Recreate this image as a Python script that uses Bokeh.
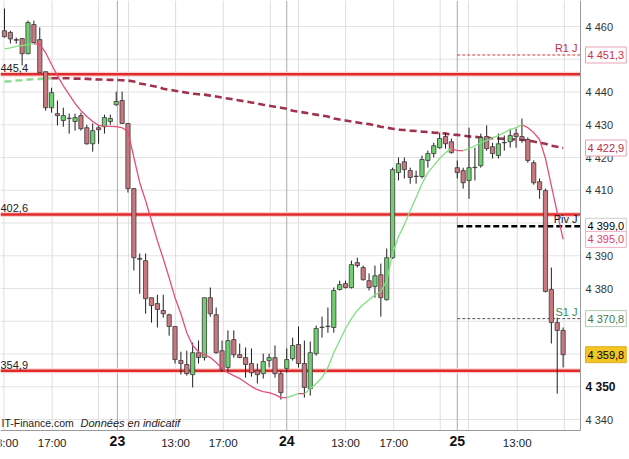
from bokeh.plotting import figure
from bokeh.models import Range1d, Label, ColumnDataSource
from bokeh.embed import file_html
from bokeh.resources import INLINE

# ---------------- data (30-min candles, index = bar number) ----------------
opens = [4458.7, 4458.2, 4456.0, 4456.3, 4451.7, 4460.6, 4456.0, 4446.2, 4435.2, 4433.4,
         4431.3, 4431.9, 4431.0, 4432.8, 4429.1, 4424.2, 4429.1, 4429.4, 4431.0, 4436.1,
         4437.4, 4430.4, 4410.5, 4389.2, 4388.5, 4377.2, 4375.4, 4373.3, 4372.0, 4368.4,
         4358.0, 4356.8, 4353.7, 4360.4, 4358.9, 4377.2, 4372.0, 4361.0, 4355.9, 4364.4,
         4359.8, 4358.9, 4357.1, 4354.9, 4354.0, 4358.0, 4358.9, 4354.0, 4355.6, 4358.6,
         4362.9, 4357.1, 4349.4, 4360.1, 4368.1, 4368.4, 4368.1, 4379.7, 4381.5, 4380.3,
         4387.9, 4386.4, 4382.4, 4380.6, 4384.2, 4376.6, 4389.4, 4415.4, 4418.7, 4416.0,
         4414.2, 4414.2, 4419.1, 4421.2, 4423.0, 4426.4, 4424.8, 4416.9, 4416.0, 4413.0,
         4416.9, 4417.5, 4426.4, 4423.3, 4420.6, 4424.5, 4424.8, 4427.3, 4426.4, 4425.5,
         4418.4, 4412.6, 4409.9, 4379.7, 4369.6, 4367.2]
highs = [4465.5, 4458.7, 4456.6, 4456.3, 4461.8, 4461.8, 4459.7, 4446.2, 4441.3, 4437.4,
         4435.2, 4433.4, 4433.4, 4433.7, 4430.0, 4430.4, 4430.0, 4433.1, 4433.1, 4440.1,
         4440.1, 4430.4, 4410.5, 4390.7, 4390.7, 4377.2, 4378.1, 4378.1, 4372.3, 4368.4,
         4360.7, 4361.0, 4363.5, 4364.1, 4377.2, 4380.3, 4374.2, 4364.1, 4367.2, 4367.2,
         4363.2, 4362.0, 4361.7, 4357.1, 4360.1, 4360.1, 4362.6, 4354.9, 4361.7, 4365.0,
         4368.4, 4364.1, 4363.8, 4368.7, 4371.4, 4374.2, 4380.3, 4382.4, 4382.4, 4388.5,
         4389.4, 4387.0, 4384.6, 4387.0, 4387.6, 4392.2, 4416.9, 4420.0, 4420.0, 4416.9,
         4416.0, 4420.6, 4422.1, 4424.5, 4427.6, 4427.6, 4425.8, 4419.1, 4416.9, 4429.1,
         4423.0, 4427.3, 4429.8, 4424.5, 4427.3, 4426.7, 4428.8, 4428.8, 4431.9, 4426.1,
         4419.1, 4413.6, 4410.5, 4386.4, 4371.1, 4368.1]
lows = [4456.6, 4454.8, 4454.8, 4448.1, 4451.5, 4455.0, 4445.8, 4434.3, 4433.7, 4429.8,
        4429.4, 4427.3, 4428.2, 4428.2, 4423.9, 4421.8, 4424.2, 4427.3, 4430.0, 4435.8,
        4430.4, 4409.3, 4385.5, 4378.4, 4372.3, 4369.6, 4368.1, 4371.1, 4365.6, 4357.1,
        4353.7, 4353.4, 4349.8, 4357.1, 4358.0, 4371.4, 4360.1, 4354.6, 4354.6, 4358.9,
        4358.9, 4352.8, 4353.1, 4351.0, 4352.5, 4355.9, 4352.8, 4346.1, 4354.3, 4358.0,
        4355.9, 4346.7, 4347.3, 4359.5, 4365.0, 4366.5, 4366.5, 4379.4, 4380.0, 4380.0,
        4386.4, 4382.4, 4379.4, 4377.2, 4371.4, 4376.3, 4389.0, 4413.0, 4413.6, 4412.0,
        4412.0, 4413.6, 4416.9, 4420.0, 4422.7, 4422.7, 4421.2, 4413.6, 4410.5, 4407.4,
        4413.0, 4416.9, 4422.1, 4419.7, 4419.7, 4422.1, 4423.0, 4423.0, 4424.5, 4418.4,
        4411.7, 4407.4, 4378.8, 4363.2, 4347.9, 4355.9]
closes = [4456.9, 4456.2, 4455.8, 4451.7, 4461.2, 4455.1, 4445.9, 4435.2, 4439.8, 4432.8,
          4432.8, 4432.0, 4432.2, 4428.8, 4424.2, 4428.2, 4428.5, 4432.2, 4431.9, 4437.1,
          4430.4, 4410.5, 4389.4, 4388.9, 4376.9, 4374.8, 4373.6, 4372.3, 4368.4, 4358.3,
          4357.1, 4354.0, 4360.4, 4358.9, 4377.2, 4372.3, 4360.4, 4355.2, 4364.1, 4359.8,
          4358.9, 4356.8, 4354.3, 4353.7, 4357.7, 4358.9, 4354.0, 4348.2, 4358.3, 4362.6,
          4357.1, 4349.8, 4360.4, 4367.8, 4368.2, 4368.5, 4379.4, 4381.2, 4380.3, 4387.3,
          4387.0, 4382.7, 4380.3, 4383.9, 4377.2, 4389.4, 4416.3, 4418.1, 4416.3, 4413.9,
          4414.3, 4419.4, 4421.2, 4423.6, 4425.8, 4424.2, 4421.5, 4415.4, 4412.3, 4416.9,
          4417.0, 4426.1, 4422.7, 4421.2, 4424.2, 4424.6, 4426.7, 4426.4, 4425.5, 4419.1,
          4412.3, 4410.2, 4379.1, 4369.6, 4367.2, 4359.8]
ma_short = [4453.2, 4453.5, 4453.9, 4454.2, 4454.5, 4454.8, 4454.5, 4452.0, 4448.4, 4445.0,
            4441.9, 4439.2, 4436.5, 4434.3, 4432.5, 4431.0, 4429.8, 4429.6, 4429.5, 4429.4,
            4429.1, 4427.9, 4420.0, 4412.3, 4406.8, 4400.7, 4394.6, 4389.1, 4383.3, 4377.2,
            4372.3, 4366.5, 4362.6, 4360.7, 4359.8, 4358.9, 4357.4, 4355.6, 4354.3, 4353.4,
            4352.5, 4351.3, 4350.1, 4349.1, 4348.5, 4348.2, 4347.6, 4346.7, 4346.7, 4347.3,
            4347.9, 4347.9, 4349.4, 4351.0, 4352.8, 4355.9, 4360.4, 4364.1, 4367.8, 4370.8,
            4373.3, 4375.1, 4376.6, 4378.1, 4379.1, 4382.4, 4390.7, 4395.8, 4399.5, 4403.8,
            4407.8, 4412.0, 4415.4, 4417.5, 4419.7, 4421.5, 4422.7, 4422.1, 4422.1, 4422.7,
            4423.6, 4424.5, 4425.2, 4426.1, 4426.7, 4427.6, 4428.5, 4429.1, 4430.0, 4429.1,
            4427.6, 4425.5, 4419.7, 4411.4, 4403.2, 4395.0]
ma_long = [4443.2, 4443.3, 4443.5, 4443.6, 4443.8, 4443.9, 4444.0, 4444.1, 4444.2, 4444.2,
           4444.2, 4444.2, 4444.1, 4444.1, 4444.0, 4443.9, 4443.8, 4443.8, 4443.7, 4443.7,
           4443.6, 4443.5, 4443.2, 4442.6, 4442.3, 4441.9, 4441.6, 4441.0, 4440.7, 4440.4,
           4440.1, 4439.8, 4439.5, 4439.3, 4439.2, 4438.9, 4438.6, 4438.3, 4438.0, 4437.7,
           4437.4, 4437.1, 4436.8, 4436.5, 4436.1, 4435.8, 4435.5, 4435.2, 4434.9, 4434.3,
           4434.0, 4433.7, 4433.4, 4433.1, 4432.8, 4432.5, 4431.9, 4431.6, 4431.3, 4431.0,
           4430.7, 4430.4, 4430.2, 4429.8, 4429.4, 4429.1, 4428.8, 4428.5, 4428.4, 4428.2,
           4428.1, 4427.9, 4427.8, 4427.6, 4427.5, 4427.3, 4427.0, 4426.9, 4426.7, 4426.4,
           4426.3, 4426.1, 4426.0, 4425.9, 4425.8, 4425.7, 4425.6, 4425.5, 4425.4, 4425.2,
           4424.9, 4424.5, 4424.2, 4423.6, 4423.3, 4422.9]

price_ticks = [4340, 4350, 4360, 4370, 4380, 4390, 4400, 4410, 4420, 4430, 4440, 4450, 4460]
bold_price_ticks = [4350]
time_tick_pos = [-0.1, 8.1, 29.1, 37.2, 58.0, 66.2, 87.2]
time_tick_labels = ["13:00", "17:00", "13:00", "17:00", "13:00", "17:00", "13:00"]
day_tick_pos = [19.2, 48.0, 77.0]
day_tick_labels = ["23", "24", "25"]
extra_grid_pos = [16.0, 21.1, 45.2, 50.0, 74.1, 78.9, 95.2]

levels = [4445.4, 4402.6, 4354.9]
level_labels = ["445,4", "402,6", "354,9"]
pivot_names = ["R1 J", "Piv J", "S1 J"]
pivot_values = [4451.3, 4399.0, 4370.8]
watermark = "IT-Finance.com"
disclaimer = "Données en indicatif"

FONT = "Liberation Sans"
# whole canvas is the frame; the price chart occupies bars up to PX1 and prices above PY0
XL, XR = -0.68, 106.29
YB, YT = 4327.79, 4467.94
PX1, PY0 = 97.96, 4336.64


def fmt(v):
    s = f"{v:.1f}".replace(".", ",")
    return s[0] + " " + s[1:]


def tick_fmt(t):
    return f"{t // 1000} {t % 1000:03d}"


p = figure(width=629, height=459, x_range=Range1d(XL, XR), y_range=Range1d(YB, YT),
           output_backend="svg", toolbar_location=None,
           x_axis_location=None, y_axis_location=None,
           min_border_left=0, min_border_top=0, min_border_right=0, min_border_bottom=0)
p.outline_line_color = None
p.grid.visible = False
p.background_fill_color = "white"
p.border_fill_color = "white"

# grid lines inside the price area
p.segment(x0=XL, x1=PX1, y0=price_ticks, y1=price_ticks, line_color="#e3e3e3", line_width=1)
p.segment(x0=time_tick_pos + extra_grid_pos, x1=time_tick_pos + extra_grid_pos,
          y0=PY0, y1=YT, line_color="#dedede", line_width=1)
p.segment(x0=day_tick_pos, x1=day_tick_pos, y0=PY0, y1=YT, line_color="#aaaaaa", line_width=1)

# support / resistance levels
p.segment(x0=XL, x1=PX1, y0=levels, y1=levels, line_color="#f9d0d0", line_width=5)
p.segment(x0=XL, x1=PX1, y0=levels, y1=levels, line_color="#e22a2a", line_width=2.6)
for v, lab in zip(levels, level_labels):
    p.add_layout(Label(x=XL, y=v, y_offset=2, text=lab, text_font=FONT, text_font_size="11px",
                       text_color="#222222", text_baseline="bottom", text_align="left"))

# daily pivots (start at day 25)
piv_start = day_tick_pos[-1]
piv_styles = [("#d03a3a", 1, "3 2", "#c0304a"), ("#000000", 2.5, "6 3", "#111111"),
              ("#555555", 1, "3 2", "#3a8a5a")]
for v, name, (col, w, dash, tcol) in zip(pivot_values, pivot_names, piv_styles):
    p.segment(x0=[piv_start], x1=[PX1], y0=[v], y1=[v], line_color=col, line_width=w, line_dash=dash)
    p.add_layout(Label(x=PX1, x_offset=-3, y=v, y_offset=1, text=name, text_font=FONT,
                       text_font_size="11px", text_color=tcol, text_align="right",
                       text_baseline="bottom"))


# moving averages coloured by slope
def runs(vals, up_col, down_col):
    out = []
    cx, cy, cc = [], [], None
    for i in range(1, len(vals)):
        col = up_col if vals[i] > vals[i - 1] else down_col
        if col != cc:
            if cx:
                out.append((cx, cy, cc))
            cx, cy, cc = [i - 1], [vals[i - 1]], col
        cx.append(i)
        cy.append(vals[i])
    out.append((cx, cy, cc))
    return out


for xs, ys, c in runs(ma_long, "#8fd88f", "#a0324e"):
    p.line(xs, ys, line_color=c, line_width=2.6, line_dash="7 4")

# candles
n = len(opens)
idx = list(range(n))
up = [c >= o for o, c in zip(opens, closes)]
src = ColumnDataSource(dict(
    x=idx, h=highs, l=lows,
    top=[max(o, c) for o, c in zip(opens, closes)],
    bottom=[min(o, c) for o, c in zip(opens, closes)],
    fill=["#6fd06f" if u else "#c8787e" for u in up],
))
p.segment(x0="x", x1="x", y0="h", y1="l", source=src, line_color="#1e1e1e", line_width=1)
p.vbar(x="x", width=0.72, top="top", bottom="bottom", source=src,
       fill_color="fill", line_color="#3a3a3a", line_width=0.8)

for xs, ys, c in runs(ma_short, "#80e080", "#e2507a"):
    p.line(xs, ys, line_color=c, line_width=1.3)

# price-area border (right and bottom)
p.segment(x0=[PX1, XL], x1=[PX1, PX1], y0=[PY0, PY0], y1=[YT, PY0], line_color="#9a9a9a", line_width=1)

# watermark
p.add_layout(Label(x=XL, x_offset=1, y=PY0, y_offset=2, text=watermark, text_font=FONT,
                   text_font_size="10.5px", text_color="#222222", text_baseline="bottom"))
p.add_layout(Label(x=XL, x_offset=80, y=PY0, y_offset=2, text=disclaimer, text_font=FONT,
                   text_font_size="11px", text_font_style="italic", text_color="#222222",
                   text_baseline="bottom"))

# price scale labels
for t in price_ticks:
    bold = t in bold_price_ticks
    p.add_layout(Label(x=PX1, x_offset=5, y=t, text=tick_fmt(t), text_font=FONT,
                       text_font_size="12px" if bold else "11px",
                       text_font_style="bold" if bold else "normal",
                       text_color="#111111" if bold else "#333333",
                       text_baseline="middle", text_align="left"))

# time scale labels
for pos, lab in zip(time_tick_pos, time_tick_labels):
    p.add_layout(Label(x=pos, y=PY0, y_offset=-6, text=lab, text_font=FONT, text_font_size="11.5px",
                       text_color="#222222", text_baseline="top", text_align="center"))
for pos, lab in zip(day_tick_pos, day_tick_labels):
    p.add_layout(Label(x=pos, y=PY0, y_offset=-5, text=lab, text_font=FONT, text_font_size="14px",
                       text_font_style="bold", text_color="#111111", text_baseline="top",
                       text_align="center"))

# value boxes on the price scale
boxes = [
    (pivot_values[0], "#d0304e", "#eaa2b2", "white"),
    (ma_long[-1], "#b8304a", "#eaa2b2", "white"),
    (pivot_values[1], "#000000", "#cccccc", "white"),
    (ma_short[-1], "#e0406a", "#f0b0c0", "white"),
    (pivot_values[2], "#3d7a50", "#b4cab4", "white"),
    (closes[-1], "#000000", "#e0b020", "#f2c424"),
]
for v, tcol, bcol, fcol in boxes:
    p.add_layout(Label(x=PX1, x_offset=5, y=v, text=fmt(v), text_font=FONT, text_font_size="11px",
                       text_color=tcol, text_baseline="middle", text_align="left",
                       background_fill_color=fcol, border_line_color=bcol, border_line_width=1,
                       padding=2))

open("out.html", "w").write(file_html(p, INLINE))
